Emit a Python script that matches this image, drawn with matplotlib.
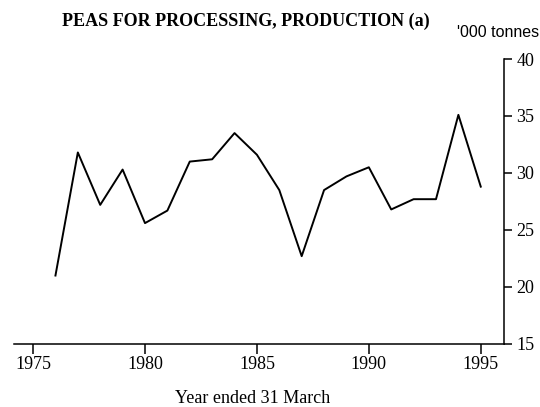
import matplotlib.pyplot as plt

# Peas for processing, production ('000 tonnes), year ended 31 March
years = [1976, 1977, 1978, 1979, 1980, 1981, 1982, 1983, 1984, 1985,
         1986, 1987, 1988, 1989, 1990, 1991, 1992, 1993, 1994, 1995]
production = [21.0, 31.8, 27.2, 30.3, 25.6, 26.7, 31.0, 31.2, 33.5, 31.6,
              28.5, 22.7, 28.5, 29.7, 30.5, 26.8, 27.7, 27.7, 35.1, 28.8]

xticks = [1975, 1980, 1985, 1990, 1995]
yticks = [15, 20, 25, 30, 35, 40]

plt.rcParams["font.family"] = ["Liberation Serif", "DejaVu Serif"]

fig = plt.figure(figsize=(5.4, 4.07), dpi=100)
ax = fig.add_axes([0.026, 0.155, 0.907, 0.7])

ax.plot(years, production, color="black", linewidth=1.4)

ax.set_xlim(1974.15, 1996.03)
ax.set_ylim(15, 40)
ax.set_xticks(xticks)
ax.set_yticks(yticks)

# only the bottom and right axis lines
ax.spines["top"].set_visible(False)
ax.spines["left"].set_visible(False)
ax.spines["bottom"].set_linewidth(1.1)
ax.spines["right"].set_linewidth(1.1)
ax.yaxis.tick_right()
ax.tick_params(axis="x", direction="out", length=7, width=1.1, labelsize=13, pad=2)
ax.tick_params(axis="y", direction="out", length=6, width=1.1, labelsize=13, pad=3)

fig.text(0.468, 0.022, "Year ended 31 March", ha="center", va="center", fontsize=13)
fig.text(0.455, 0.948, "PEAS FOR PROCESSING, PRODUCTION (a)",
         ha="center", va="center", fontsize=13, fontweight="bold")
fig.text(0.998, 0.92, "'000 tonnes", ha="right", va="center", fontsize=11.5,
         family="Liberation Sans")

fig.savefig("out.png", dpi=100)
